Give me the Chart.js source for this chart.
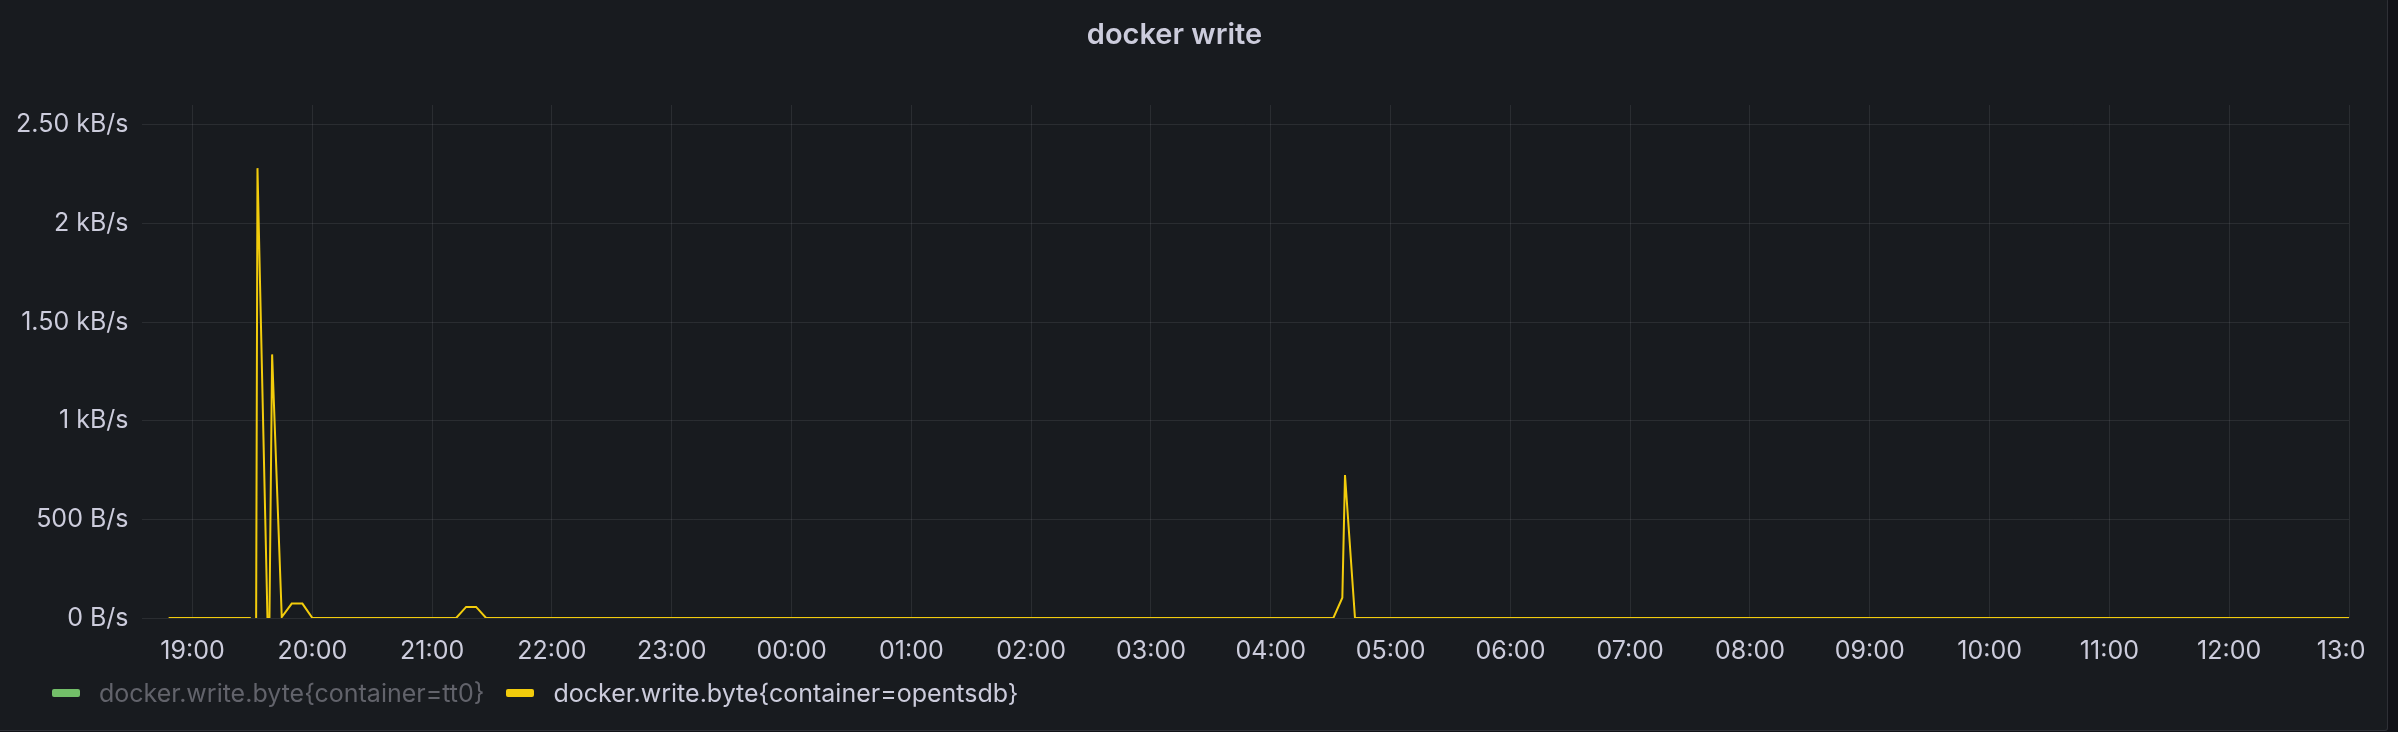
<!DOCTYPE html>
<html>
<head>
<meta charset="utf-8">
<script src="https://cdn.jsdelivr.net/npm/chart.js@4.4.1/dist/chart.umd.min.js"></script>
<style>
  html, body { margin: 0; padding: 0; background: #111217; width: 2398px; height: 732px; overflow: hidden; }
  #panel { position: absolute; left: -2px; top: -2px; width: 2390px; height: 733px; background: #181b1f;
           border: 1px solid rgba(204,204,220,0.12); border-radius: 3px; box-sizing: border-box; }
  #chart { position: absolute; left: 0; top: 0; }
  #legend { position: absolute; left: 52px; top: 678px; display: flex; align-items: center;
            font-family: Inter, "Noto Sans", sans-serif; font-size: 25px; color: #ccccdc; white-space: nowrap; }
  .item { display: flex; align-items: center; margin-right: 22px; }
  .sw { display: inline-block; width: 28px; height: 8px; border-radius: 2px; margin-right: 19px; }
  .hidden { color: #62636b; }
</style>
</head>
<body>
<div id="panel"></div>
<canvas id="chart" width="2366" height="732"></canvas>
<div id="legend"></div>
<script>
// ---- data ----
const title = "docker write";
const seriesNames = ["docker.write.byte{container=tt0}", "docker.write.byte{container=opentsdb}"];
const seriesColors = ["#73BF69", "#F2CC0C"];
const seriesHidden = [true, false];

// tt0 is hidden in the legend; its values are not visible
const tt0Times = [];
const tt0Values = [];

// opentsdb series (B/s); null = gap in the data
const opentsdbTimes = [
  "18:48:00", "19:29:10", "19:30:30",
  "19:31:50", "19:32:30", "19:37:30", "19:38:00",
  "19:38:30", "19:39:50", "19:44:40", "19:49:40", "19:55:00", "20:00:00",
  "21:12:00", "21:17:00", "21:22:00", "21:27:00",
  "04:31:20", "04:35:50", "04:37:10", "04:42:10", "13:00:00"
];
const opentsdbValues = [
  0, 0, null,
  0, 2280, 0, null,
  0, 1336, 5, 73, 73, 0,
  0, 56, 56, 0,
  0, 103, 725, 0, 0
];

const xTickLabels = ["19:00","20:00","21:00","22:00","23:00","00:00","01:00","02:00","03:00",
                     "04:00","05:00","06:00","07:00","08:00","09:00","10:00","11:00","12:00","13:00"];
const xRangeStart = "18:34:40";
const xRangeEnd = "13:00:00";

const yTickValues = [0, 500, 1000, 1500, 2000, 2500];
const yTickLabels = ["0 B/s", "500 B/s", "1 kB/s", "1.50 kB/s", "2 kB/s", "2.50 kB/s"];
const yMax = 2600;

// ---- helpers ----
function toMin(t) {            // minutes relative to 19:00 (day wraps after midnight)
  const p = t.split(":").map(Number);
  let m = p[0] * 60 + p[1] + (p[2] || 0) / 60 - 19 * 60;
  if (m < -120) m += 1440;
  return m;
}
function toPoints(times, values) {
  return times.map((t, i) => ({ x: toMin(t), y: values[i] }));
}

const FONT = "Inter, 'Noto Sans', sans-serif";
const TEXT = "#ccccdc";
const GRID = "rgba(204,204,220,0.1)";

const xTickVals = xTickLabels.map(toMin);
const chartAreaLeft = 142, chartAreaBottom = 618, canvasH = 732;

const chart = new Chart(document.getElementById("chart"), {
  type: "line",
  data: {
    datasets: [
      { label: seriesNames[0], data: toPoints(tt0Times, tt0Values), borderColor: seriesColors[0],
        backgroundColor: seriesColors[0], hidden: seriesHidden[0], borderWidth: 2, pointRadius: 0, tension: 0 },
      { label: seriesNames[1], data: toPoints(opentsdbTimes, opentsdbValues), borderColor: seriesColors[1],
        backgroundColor: seriesColors[1], hidden: seriesHidden[1], borderWidth: 2, pointRadius: 0, tension: 0,
        spanGaps: false }
    ]
  },
  options: {
    responsive: false,
    animation: false,
    devicePixelRatio: 1,
    layout: { autoPadding: false, padding: { left: 0, right: 17, top: 0, bottom: 0 } },
    plugins: {
      legend: { display: false },
      tooltip: { enabled: false },
      title: {
        display: true, text: title, color: TEXT,
        font: { family: FONT, size: 29, weight: 600 },
        padding: { top: 17.6, bottom: 52.6 }
      }
    },
    scales: {
      x: {
        type: "linear",
        min: toMin(xRangeStart),
        max: toMin(xRangeEnd),
        afterBuildTicks: (s) => { s.ticks = xTickVals.map(v => ({ value: v })); },
        afterFit: (s) => { s.height = canvasH - chartAreaBottom; s.paddingLeft = 0; s.paddingRight = 0; },
        grid: { color: GRID, lineWidth: 1, drawTicks: false },
        border: { display: false },
        ticks: {
          autoSkip: false, maxRotation: 0, minRotation: 0, padding: 18,
          color: TEXT, font: { family: FONT, size: 25 },
          callback: (v) => { const i = xTickVals.indexOf(v); return i >= 0 ? xTickLabels[i] : ""; }
        }
      },
      y: {
        min: 0, max: yMax,
        afterBuildTicks: (s) => { s.ticks = yTickValues.map(v => ({ value: v })); },
        afterFit: (s) => { s.width = chartAreaLeft; s.paddingTop = 0; s.paddingBottom = 0; },
        grid: { color: GRID, lineWidth: 1, drawTicks: false },
        border: { display: false },
        ticks: {
          padding: 13.5, color: TEXT, font: { family: FONT, size: 25 },
          callback: (v) => { const i = yTickValues.indexOf(v); return i >= 0 ? yTickLabels[i] : ""; }
        }
      }
    }
  }
});

// legend (HTML) built from the series arrays
const lg = document.getElementById("legend");
seriesNames.forEach((name, i) => {
  const it = document.createElement("div");
  it.className = "item" + (seriesHidden[i] ? " hidden" : "");
  const sw = document.createElement("span");
  sw.className = "sw";
  sw.style.background = seriesColors[i];
  const tx = document.createElement("span");
  tx.textContent = name;
  it.appendChild(sw); it.appendChild(tx);
  lg.appendChild(it);
});
</script>
</body>
</html>
